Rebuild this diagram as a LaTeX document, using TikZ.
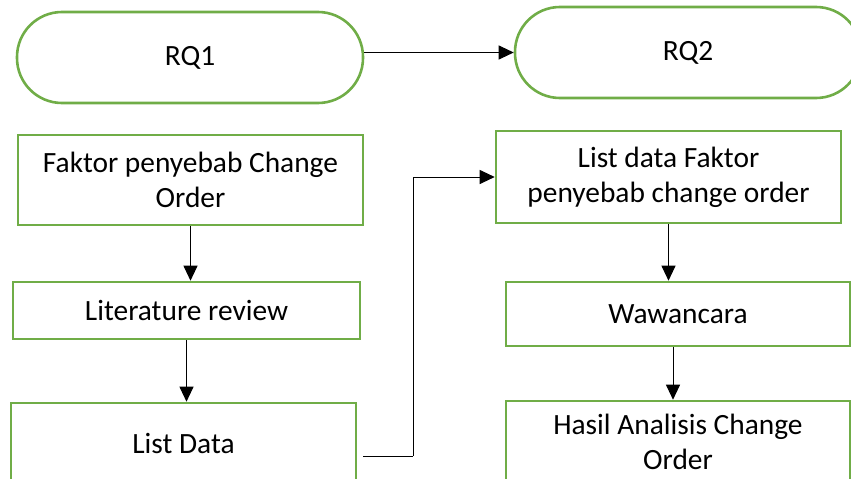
\documentclass[tikz,border=0pt]{standalone}
\usepackage{fontspec}
\setmainfont{Carlito}
\usetikzlibrary{arrows.meta,calc}
\definecolor{boxgreen}{HTML}{70AD47}
\begin{document}
\begin{tikzpicture}[x=1pt,y=-1pt,
  every node/.style={font=\fontsize{29.4}{35}\selectfont, inner sep=0pt, align=center},
  pill/.style={draw=boxgreen, line width=2.6pt, fill=white, minimum width=346pt, minimum height=91pt, rounded corners=45pt},
  stepbox/.style={draw=boxgreen, line width=2.6pt, fill=white},
  flow/.style={draw=black, line width=1pt, -{Triangle[length=15pt,width=14pt]}},
  plain/.style={draw=black, line width=1pt}]
\useasboundingbox (0,0) rectangle (851,479);
\begin{scope}
\clip (0,0) rectangle (851,479);
% terminators
\node[pill] (rq1) at (190,57.5) {RQ1};
\node[pill] (rq2) at (688,52.5) {RQ2};
% left column
\node[stepbox, minimum width=345pt, minimum height=90pt] (fak) at (190.5,180) {Faktor penyebab Change\\Order};
\node[stepbox, minimum width=347pt, minimum height=57pt] (lit) at (186.5,310.5) {Literature review};
\node[stepbox, minimum width=345pt, minimum height=80pt] (ld) at (183.5,443) {List Data};
% right column
\node[stepbox, minimum width=345pt, minimum height=92pt] (ldf) at (668.5,177) {List data Faktor\\penyebab change order};
\node[stepbox, minimum width=344pt, minimum height=64pt] (waw) at (678,314) {Wawancara};
\node[stepbox, minimum width=344pt, minimum height=82pt] (has) at (678,442) {Hasil Analisis Change\\Order};
\end{scope}
% connectors
\draw[flow] (rq1.east |- rq2.west) -- (rq2.west);
\draw[flow] (fak.south) -- (fak.south |- lit.north);
\draw[flow] (lit.south) -- (lit.south |- ld.north);
\coordinate (ldout) at (363,456);
\coordinate (bend) at (413,456);
\draw[plain] (ldout) -- (bend);
\draw[flow] (bend) |- (ldf.west);
\draw[flow] (ldf.south) -- (ldf.south |- waw.north);
\draw[flow] ([xshift=-5pt]waw.south) -- ([xshift=-5pt]waw.south |- has.north);
\end{tikzpicture}
\end{document}
